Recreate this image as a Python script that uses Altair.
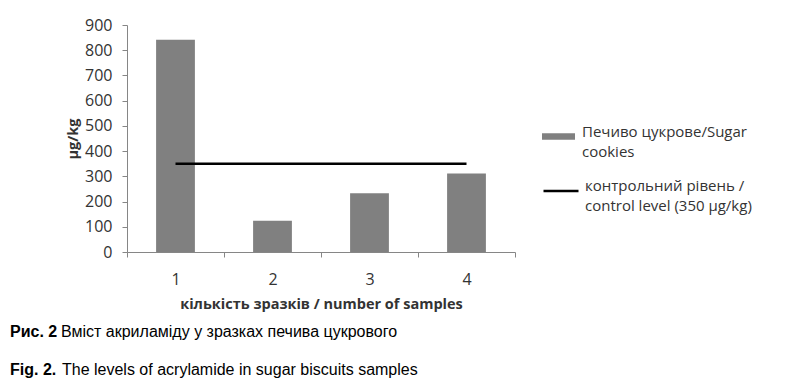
import altair as alt
import pandas as pd

# ---- data ----
samples = ["1", "2", "3", "4"]
acrylamide = [842, 124, 233, 311]          # µg/kg
control_level = 350                         # µg/kg
bar_series = "Печиво цукрове/Sugar\ncookies"
line_series = "контрольний рівень /\ncontrol level (350 µg/kg)"
y_ticks = [0, 100, 200, 300, 400, 500, 600, 700, 800, 900]
x_title = "кількість зразків / number of samples"
y_title = "µg/kg"
cap1_bold = "Рис. 2"
cap1_text = "Вміст акриламіду у зразках печива цукрового"
cap2_bold = "Fig. 2."
cap2_text = "The levels of acrylamide in sugar biscuits samples"

bars_df = pd.DataFrame({"sample": samples, "value": acrylamide, "series": [bar_series] * len(samples)})
rule_df = pd.DataFrame({"x": [samples[0]], "x2": [samples[-1]], "y": [control_level], "series": [line_series]})

TICK_FONT = "Open Sans"
x_scale = alt.Scale(domain=samples, paddingInner=0, paddingOuter=0)
y_scale = alt.Scale(domain=[0, 900], nice=False)
x_axis = alt.Axis(title=x_title, labelAngle=0, tickBand="extent", tickSize=5,
                  labelPadding=14, titlePadding=10)
y_axis = alt.Axis(title=y_title, values=y_ticks, tickSize=5, labelPadding=10,
                  labelOverlap=False, titlePadding=4, grid=False)

bars = alt.Chart(bars_df).mark_bar(width=alt.RelativeBandSize(0.4)).encode(
    x=alt.X("sample:N", scale=x_scale, sort=samples, axis=x_axis),
    y=alt.Y("value:Q", scale=y_scale, axis=y_axis),
    fill=alt.Fill("series:N", scale=alt.Scale(domain=[bar_series], range=["#808080"]),
                  legend=alt.Legend(title=None, orient="none", legendX=415, legendY=95,
                                    symbolType="M-1,-0.2H1V0.2H-1Z", symbolSize=1089,
                                    symbolStrokeWidth=0, labelOffset=7,
                                    labelBaseline="alphabetic",
                                    labelExpr="split(datum.label, '\\n')")),
)

rule = alt.Chart(rule_df).mark_rule(strokeWidth=2.6).encode(
    x=alt.X("x:N", scale=x_scale, axis=x_axis),
    x2="x2:N",
    y=alt.Y("y:Q", scale=y_scale, axis=y_axis),
    stroke=alt.Stroke("series:N", scale=alt.Scale(domain=[line_series], range=["#000000"]),
                      legend=alt.Legend(title=None, orient="none", legendX=415, legendY=147,
                                        symbolType="stroke", symbolSize=1225,
                                        symbolStrokeWidth=2.6, labelOffset=5,
                                        labelBaseline="alphabetic",
                                        labelExpr="split(datum.label, '\\n')")),
)

def cap(text, x, y, bold):
    return alt.Chart(pd.DataFrame({"t": [text]})).mark_text(
        align="left", baseline="middle", font="Liberation Sans", fontSize=16,
        fontWeight="bold" if bold else "normal", color="#000000"
    ).encode(text="t:N", x=alt.value(x), y=alt.value(y))

captions = [
    cap(cap1_bold, -117, 307, True),
    cap(cap1_text, -66, 307, False),
    cap(cap2_bold, -117, 345, True),
    cap(cap2_text, -65, 345, False),
]

chart = alt.layer(bars, rule, *captions).properties(
    width=388, height=227,
    padding={"left": 119, "top": 17, "right": 277, "bottom": 128},
    autosize=alt.AutoSizeParams(type="none"),
).configure(
    style={"guide-label": {"lineHeight": 20}}
).configure_view(stroke=None).configure_axis(
    domainColor="#868686", tickColor="#868686",
    labelFont=TICK_FONT, labelFontSize=16, labelColor="#333333",
    titleFont=TICK_FONT, titleFontSize=14.5, titleFontWeight="bold", titleColor="#333333",
).configure_axisY(labelOverlap=False).configure_legend(
    padding=0, labelFont=TICK_FONT, labelFontSize=15, labelColor="#333333", labelLimit=300,
)

chart.save("out.html", embed_options={"renderer": "svg", "actions": False})
